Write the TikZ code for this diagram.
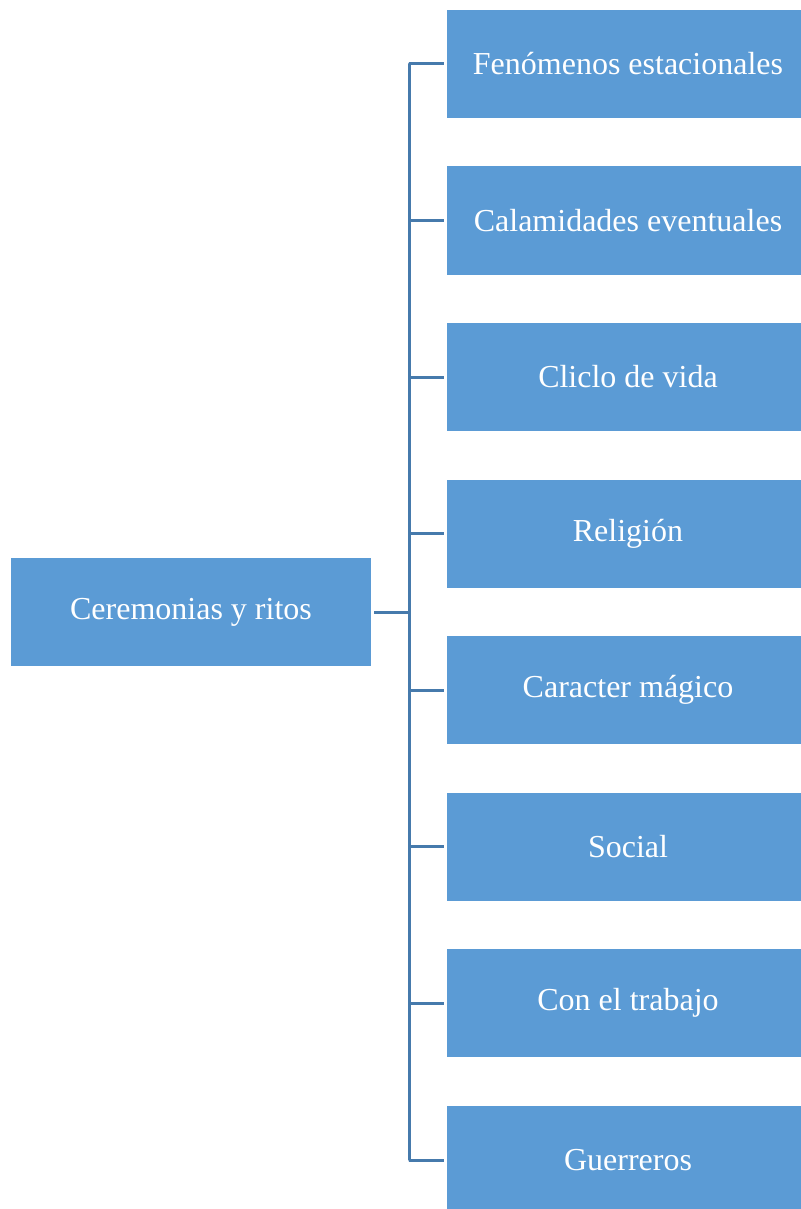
\documentclass[tikz,border=0pt]{standalone}
\usepackage{fontspec}
\setmainfont{Liberation Serif}
\definecolor{boxblue}{HTML}{5B9BD5}
\definecolor{linkblue}{RGB}{70,122,172}
\begin{document}
\begin{tikzpicture}[x=1pt,y=-1pt,
  catbox/.style={fill=boxblue,draw=none,minimum width=362pt,minimum height=108pt,inner sep=0pt,text=white,font=\fontsize{32}{36}\selectfont},
  rootbox/.style={fill=boxblue,draw=none,minimum width=360pt,minimum height=108pt,inner sep=0pt,text=white,font=\fontsize{32}{36}\selectfont},
  link/.style={draw=linkblue,line width=3pt}]
\useasboundingbox (0,0) rectangle (800,1209);
\node[rootbox] (root) at (191,612) {Ceremonias y ritos};
\node[catbox] (c1) at (628,64) {Fenómenos estacionales};
\node[catbox] (c2) at (628,220.5) {Calamidades eventuales};
\node[catbox] (c3) at (628,377) {Cliclo de vida};
\node[catbox] (c4) at (628,533.5) {Religión};
\node[catbox] (c5) at (628,690) {Caracter mágico};
\node[catbox] (c6) at (628,846.5) {Social};
\node[catbox] (c7) at (628,1003) {Con el trabajo};
\node[catbox] (c8) at (628,1160) {Guerreros};
\coordinate (bus) at (409,612);
\draw[link] ([xshift=3pt]root.east) -- (bus);
\foreach \i in {1,...,8}{
  \draw[link] (c\i.west) ++(-3pt,0) -- ++(-35pt,0) -- (bus |- c\i.west) -- (bus);
}
\end{tikzpicture}
\end{document}
